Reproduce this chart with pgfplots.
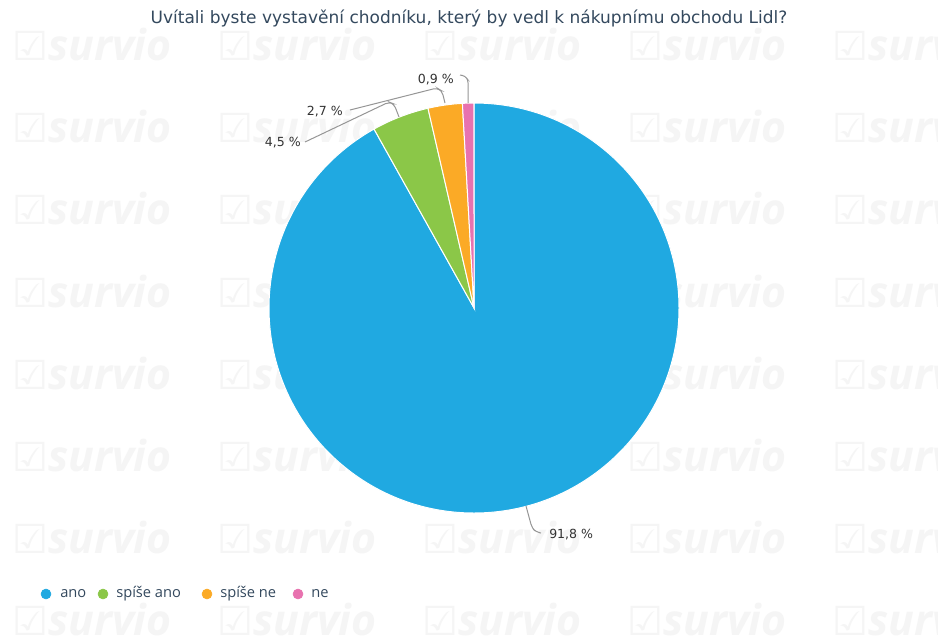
\documentclass[border=0pt]{standalone}
\usepackage{pgfplots}
\pgfplotsset{compat=1.18}
\usepackage{fontspec}
\setmainfont{Open Sans}
\newfontfamily\dejavu{DejaVu Sans}
\definecolor{cA}{RGB}{32,169,225}
\definecolor{cB}{RGB}{139,199,72}
\definecolor{cC}{RGB}{251,170,38}
\definecolor{cD}{RGB}{232,114,175}
\definecolor{titlecol}{RGB}{52,73,94}
\definecolor{legcol}{RGB}{52,73,94}
\definecolor{labcol}{RGB}{51,51,51}
\definecolor{concol}{RGB}{150,150,150}
\definecolor{wm}{RGB}{245,245,245}
% data (percent)
\def\vA{91.8}
\def\vB{4.5}
\def\vC{2.7}
\def\vD{0.9}
\begin{document}
\begin{tikzpicture}
\pgfmathsetmacro\tot{\vA+\vB+\vC+\vD}
\pgfmathsetmacro\aO{90}
\pgfmathsetmacro\aA{\aO-\vA/\tot*360}
\pgfmathsetmacro\aB{\aA-\vB/\tot*360}
\pgfmathsetmacro\aC{\aB-\vC/\tot*360}
\pgfmathsetmacro\aD{\aC-\vD/\tot*360}
\def\R{153.75pt}
\fill[white] (0,0) rectangle (703.5pt,480pt);
% watermark
\begin{scope}[x=0.75pt,y=0.75pt]
\clip (0,0) rectangle (938,640);
\foreach \i in {0,...,4}{
  \foreach \j in {0,...,7}{
    \node[anchor=west, text=wm, inner sep=0pt] at ({12+205*\i},{640-45-82*\j})
      {{\dejavu\bfseries\fontsize{30}{32}\selectfont ☑}{\fontsize{32}{34}\selectfont\bfseries\itshape survio}};
  }
}
\end{scope}
\begin{axis}[
  at={(0,0)}, anchor=south west,
  scale only axis, width=703.5pt, height=480pt,
  xmin=0, xmax=938, ymin=0, ymax=640, y dir=reverse,
  hide axis, clip=false,
]
% pie slices
\fill[cA, draw=white, line width=0.75pt] (axis cs:474,308) -- ++(\aO:\R) arc[start angle=\aO, end angle=\aA, radius=\R] -- cycle;
\fill[cB, draw=white, line width=0.75pt] (axis cs:474,308) -- ++(\aA:\R) arc[start angle=\aA, end angle=\aB, radius=\R] -- cycle;
\fill[cC, draw=white, line width=0.75pt] (axis cs:474,308) -- ++(\aB:\R) arc[start angle=\aB, end angle=\aC, radius=\R] -- cycle;
\fill[cD, draw=white, line width=0.75pt] (axis cs:474,308) -- ++(\aC:\R) arc[start angle=\aC, end angle=\aD, radius=\R] -- cycle;
% connectors
\draw[concol, line width=0.75pt, rounded corners=3pt] (axis cs:526,506) -- (axis cs:532,528) -- (axis cs:536,532) -- (axis cs:541,533);
\draw[concol, line width=0.75pt, rounded corners=3pt] (axis cs:399,117) -- (axis cs:394,104) -- (axis cs:389,102) -- (axis cs:305,142);
\draw[concol, line width=0.75pt, rounded corners=3pt] (axis cs:445,103) -- (axis cs:442,91) -- (axis cs:437,88) -- (axis cs:350,110);
\draw[concol, line width=0.75pt, rounded corners=2pt] (axis cs:468,103) -- (axis cs:468,80) -- (axis cs:465,76) -- (axis cs:460,75);
% data labels
\node[anchor=west, inner sep=0pt, text=labcol, font=\dejavu\fontsize{9.4}{11}\selectfont] at (axis cs:549,535) {91,8 \%};
\node[anchor=east, inner sep=0pt, text=labcol, font=\dejavu\fontsize{9.4}{11}\selectfont] at (axis cs:301,143) {4,5 \%};
\node[anchor=east, inner sep=0pt, text=labcol, font=\dejavu\fontsize{9.4}{11}\selectfont] at (axis cs:343,112) {2,7 \%};
\node[anchor=east, inner sep=0pt, text=labcol, font=\dejavu\fontsize{9.4}{11}\selectfont] at (axis cs:454,80) {0,9 \%};
% title
\node[inner sep=0pt, text=titlecol, font=\dejavu\fontsize{12.75}{15}\selectfont] at (axis cs:469,18) {Uvítali byste vystavění chodníku, který by vedl k nákupnímu obchodu Lidl?};
% legend
\addplot[only marks, mark=*, mark size=3.75pt, cA] coordinates {(46,594)};
\addplot[only marks, mark=*, mark size=3.75pt, cB] coordinates {(103,594)};
\addplot[only marks, mark=*, mark size=3.75pt, cC] coordinates {(207,594)};
\addplot[only marks, mark=*, mark size=3.75pt, cD] coordinates {(298,594)};
\node[anchor=west, inner sep=0pt, text=legcol, font=\fontsize{11}{13}\selectfont] at (axis cs:60,594) {ano};
\node[anchor=west, inner sep=0pt, text=legcol, font=\fontsize{11}{13}\selectfont] at (axis cs:116,594) {spíše ano};
\node[anchor=west, inner sep=0pt, text=legcol, font=\fontsize{11}{13}\selectfont] at (axis cs:220,594) {spíše ne};
\node[anchor=west, inner sep=0pt, text=legcol, font=\fontsize{11}{13}\selectfont] at (axis cs:311,594) {ne};
\end{axis}
\pgfresetboundingbox
\useasboundingbox (0,0) rectangle (703.5pt,480pt);
\end{tikzpicture}
\end{document}
